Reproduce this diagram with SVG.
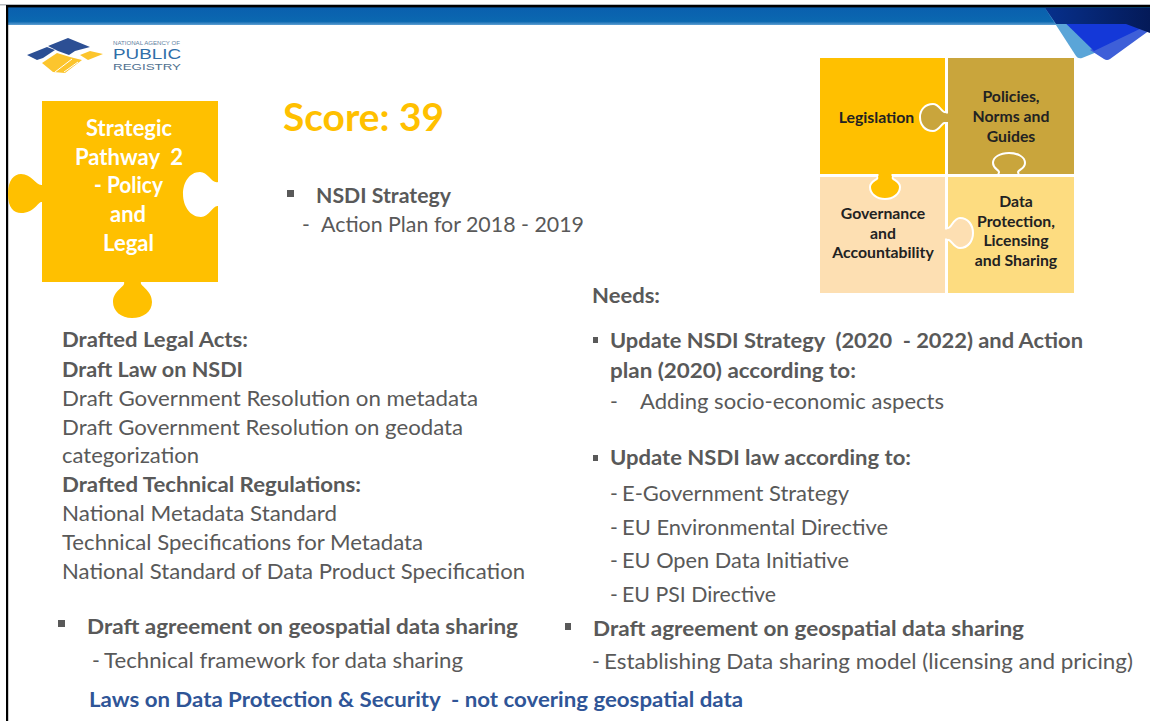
<svg xmlns="http://www.w3.org/2000/svg" width="1150" height="721" viewBox="0 0 1150 721">
<defs>
<linearGradient id="bar" x1="0" y1="0" x2="0" y2="1"><stop offset="0" stop-color="#0a5fae"/><stop offset="0.8" stop-color="#0b68b0"/><stop offset="1" stop-color="#5f9fd2"/></linearGradient>
<linearGradient id="navy" x1="0" y1="0" x2="1" y2="0"><stop offset="0" stop-color="#07308c"/><stop offset="1" stop-color="#041a58"/></linearGradient>
</defs>
<style>
text{font-family:"Lato","Carlito","Liberation Sans",sans-serif;fill:#595959;font-size:21px}
.b{font-weight:700}
.w{fill:#fff;font-weight:700;font-size:22px;text-anchor:middle}
.p{fill:#222;font-weight:700;font-size:15.8px;text-anchor:middle}
.l{font-family:"Liberation Sans",sans-serif}
.k{stroke:#fff;stroke-width:2}
.sq{fill:#595959}
</style>
<rect width="1150" height="721" fill="#fff"/>
<g id="frame">
<rect x="7" y="7" width="1143" height="18" fill="url(#bar)"/>
<rect x="0" y="4" width="1150" height="1.5" fill="#b8bcc0"/>
<rect x="6" y="5" width="1144" height="2.4" fill="#000"/>
<rect x="6" y="5" width="2.2" height="716" fill="#000"/>
<path d="M1045,8L1076,56Q1078,59 1082,58L1102,50L1070,8Z" fill="#5aa5d8"/>
<path d="M1090,50L1104,59Q1107,61 1110,59L1150,30V20Z" fill="#3e5fd8"/>
<path d="M1050,8L1094,51L1150,24V8Z" fill="#1438d8"/>
<path d="M1045,8H1150V33L1126,24H1056Z" fill="url(#navy)"/>
</g>
<g id="logo">
<polygon points="27,55 47,47 55,50 43,58 37,60" fill="#2c4f94"/>
<polygon points="48,46 68,38 90,47 75,51 69,55 58,51" fill="#2c4f94"/>
<polygon points="42,63 57,53 70,57 82,60 65,73 53,72" fill="#fcc52d"/>
<polygon points="80,55 90,51 103,54 88,60" fill="#fcc52d"/>
<path d="M55,72L72,59M64,72L78,62" stroke="#fff" stroke-width="1" fill="none"/>
<text class="l" x="113" y="44.500" style="font-size:4.5px;fill:#5f7f9f" textLength="67" lengthAdjust="spacingAndGlyphs">NATIONAL AGENCY OF</text>
<text class="l" x="113" y="58.500" style="font-size:15.500px;fill:#2f6ea8" textLength="68" lengthAdjust="spacingAndGlyphs">PUBLIC</text>
<text class="l" x="113" y="70" style="font-size:9.500px;fill:#4f6f8f" textLength="68" lengthAdjust="spacingAndGlyphs">REGISTRY</text>
</g>
<g id="pathway-piece">
<path d="M42,101H218V182C212,184 208,172 200,172C189,172 183,183 183,194C183,206 190,217 201,217C209,217 213,205 218,206V282H141C139,286 152,290 152,302C152,312 143,318 132,318C121,318 113,311 113,302C113,290 126,287 124,282H42V202C38,201 35,213 21,213C14,213 8,208 8,194C8,180 14,174 21,174C32,174 36,186 42,185Z" fill="#ffc000"/>
<text class="w" x="129" y="136" textLength="86" lengthAdjust="spacingAndGlyphs">Strategic</text>
<text class="w" x="129" y="165" textLength="108" lengthAdjust="spacingAndGlyphs" xml:space="preserve">Pathway  2</text>
<text class="w" x="128.500" y="193" textLength="69" lengthAdjust="spacingAndGlyphs">- Policy</text>
<text class="w" x="128" y="222" textLength="36" lengthAdjust="spacingAndGlyphs">and</text>
<text class="w" x="128.500" y="251" textLength="51" lengthAdjust="spacingAndGlyphs">Legal</text>
</g>
<g id="score"><text x="283" y="131" class="b" style="font-size:38px;fill:#ffc000" textLength="161" lengthAdjust="spacingAndGlyphs">Score: 39</text></g>
<g id="strategy">
<rect x="287" y="190" width="7" height="7" class="sq"/>
<text class="b" x="316" y="203" textLength="135" lengthAdjust="spacingAndGlyphs">NSDI Strategy</text>
<text x="302" y="232">-</text>
<text x="321" y="232" textLength="263" lengthAdjust="spacingAndGlyphs">Action Plan for 2018 - 2019</text>
</g>
<g id="puzzle">
<rect x="820" y="58" width="125" height="116" fill="#ffc000"/>
<rect x="948" y="58" width="126" height="116" fill="#c9a53c"/>
<rect x="820" y="177" width="125" height="116" fill="#fddfb2"/>
<rect x="948" y="177" width="126" height="116" fill="#fddc80"/>
<path class="k" d="M946,112C942,114 940,104 933,104C925,104 920,110 920,117C920,125 925,131 933,131C940,131 942,121 946,123" fill="#c9a53c"/>
<rect x="943" y="113.500" width="6" height="8.500" fill="#c9a53c"/>
<path class="k" d="M998,174C1002,170 993,170 993,163C993,157 1000,153 1009,153C1018,153 1025,157 1025,163C1025,170 1015,170 1019,174" fill="#c9a53c"/>
<path class="k" d="M877,176C880,180 870,180 870,187C870,194 877,199 885,199C893,199 900,194 900,187C900,180 890,180 893,176" fill="#ffc000"/>
<rect x="878.500" y="173" width="13" height="5" fill="#ffc000"/>
<path class="k" d="M947,228C951,230 953,218 960,218C968,218 973,225 973,233C973,241 968,248 960,248C953,248 951,238 947,240" fill="#fddfb2"/>
<rect x="944" y="229.500" width="5" height="9" fill="#fddfb2"/>
<text class="p" x="876.500" y="123">Legislation</text>
<text class="p" x="1011" y="102">Policies,</text>
<text class="p" x="1011" y="122">Norms and</text>
<text class="p" x="1011" y="142">Guides</text>
<text class="p" x="883" y="219">Governance</text>
<text class="p" x="883" y="239">and</text>
<text class="p" x="883" y="258">Accountability</text>
<text class="p" x="1016" y="207">Data</text>
<text class="p" x="1016" y="227">Protection,</text>
<text class="p" x="1016" y="246">Licensing</text>
<text class="p" x="1016" y="266">and Sharing</text>
</g>
<g id="drafted">
<text class="b" x="62" y="347" textLength="186" lengthAdjust="spacingAndGlyphs">Drafted Legal Acts:</text>
<text class="b" x="62" y="377" textLength="181" lengthAdjust="spacingAndGlyphs">Draft Law on NSDI</text>
<text x="62" y="406" textLength="416" lengthAdjust="spacingAndGlyphs">Draft Government Resolution on metadata</text>
<text x="62" y="435" textLength="401" lengthAdjust="spacingAndGlyphs">Draft Government Resolution on geodata</text>
<text x="62" y="463" textLength="137" lengthAdjust="spacingAndGlyphs">categorization</text>
<text class="b" x="62" y="492" textLength="299" lengthAdjust="spacingAndGlyphs">Drafted Technical Regulations:</text>
<text x="62" y="521" textLength="275" lengthAdjust="spacingAndGlyphs">National Metadata Standard</text>
<text x="62" y="550" textLength="361" lengthAdjust="spacingAndGlyphs">Technical Specifications for Metadata</text>
<text x="62" y="579" textLength="463" lengthAdjust="spacingAndGlyphs">National Standard of Data Product Specification</text>
<rect x="58" y="620" width="7" height="7" class="sq"/>
<text class="b" x="87" y="634" textLength="431" lengthAdjust="spacingAndGlyphs">Draft agreement on geospatial data sharing</text>
<text x="92" y="668">-</text>
<text x="104" y="668" textLength="359" lengthAdjust="spacingAndGlyphs">Technical framework for data sharing</text>
<text class="b" x="89" y="707" style="fill:#2f5597" textLength="654" lengthAdjust="spacingAndGlyphs" xml:space="preserve">Laws on Data Protection &amp; Security  - not covering geospatial data</text>
</g>
<g id="needs">
<text class="b" x="592" y="303" textLength="68" lengthAdjust="spacingAndGlyphs">Needs:</text>
<rect x="593" y="337" width="5" height="6" class="sq"/>
<text class="b" x="610" y="348" textLength="473" lengthAdjust="spacingAndGlyphs" xml:space="preserve">Update NSDI Strategy  (2020  - 2022) and Action</text>
<text class="b" x="610" y="378" textLength="246" lengthAdjust="spacingAndGlyphs">plan (2020) according to:</text>
<text x="610" y="409">-</text>
<text x="640" y="409" textLength="304" lengthAdjust="spacingAndGlyphs">Adding socio-economic aspects</text>
<rect x="593" y="455" width="5" height="6" class="sq"/>
<text class="b" x="610" y="465" textLength="301" lengthAdjust="spacingAndGlyphs">Update NSDI law according to:</text>
<text x="610" y="501">-</text>
<text x="622" y="501" textLength="227" lengthAdjust="spacingAndGlyphs">E-Government Strategy</text>
<text x="610" y="535">-</text>
<text x="622" y="535" textLength="266" lengthAdjust="spacingAndGlyphs">EU Environmental Directive</text>
<text x="610" y="568">-</text>
<text x="622" y="568" textLength="227" lengthAdjust="spacingAndGlyphs">EU Open Data Initiative</text>
<text x="610" y="602">-</text>
<text x="622" y="602" textLength="154" lengthAdjust="spacingAndGlyphs">EU PSI Directive</text>
<rect x="565" y="623" width="6" height="7" class="sq"/>
<text class="b" x="593" y="636" textLength="431" lengthAdjust="spacingAndGlyphs">Draft agreement on geospatial data sharing</text>
<text x="592" y="669">-</text>
<text x="604" y="669" textLength="529" lengthAdjust="spacingAndGlyphs">Establishing Data sharing model (licensing and pricing)</text>
</g>
</svg>
